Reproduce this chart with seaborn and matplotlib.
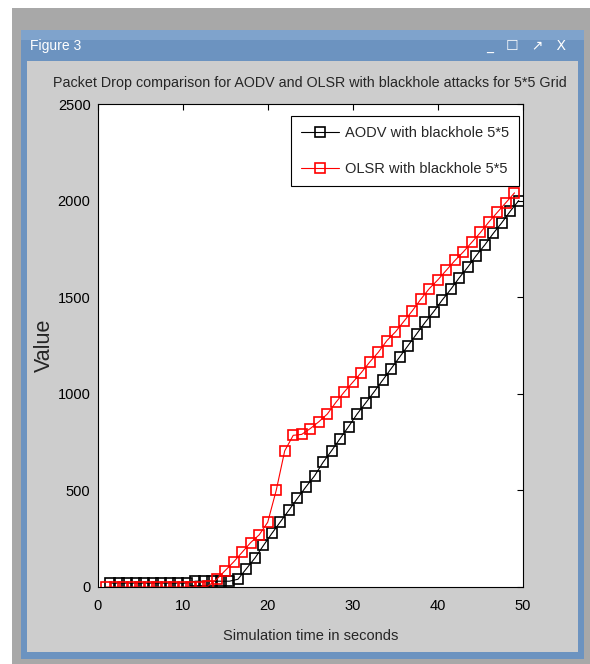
import matplotlib
matplotlib.use("Agg")
import matplotlib.pyplot as plt
import matplotlib.patches as mpatches
import pandas as pd
import seaborn as sns

# values
aodv_time = [1.5, 2.5, 3.5, 4.5, 5.5, 6.5, 7.5, 8.5, 9.5, 10.5,
             11.5, 12.5, 13.5, 14.5, 15.5, 16.5, 17.5, 18.5, 19.5, 20.5,
             21.5, 22.5, 23.5, 24.5, 25.5, 26.5, 27.5, 28.5, 29.5, 30.5,
             31.5, 32.5, 33.5, 34.5, 35.5, 36.5, 37.5, 38.5, 39.5, 40.5,
             41.5, 42.5, 43.5, 44.5, 45.5, 46.5, 47.5, 48.5, 49.5]
aodv_drop = [20, 20, 20, 20, 20, 20, 20, 20, 20, 20,
             30, 30, 30, 30, 30, 40, 95, 150, 215, 278,
             338, 398, 459, 519, 575, 645, 705, 768, 830, 895,
             952, 1010, 1070, 1130, 1190, 1250, 1310, 1370, 1425, 1485,
             1540, 1600, 1655, 1715, 1770, 1830, 1885, 1945, 2000]

olsr_time = [1, 2, 3, 4, 5, 6, 7, 8, 9, 10,
             11, 12, 13, 14, 15, 16, 17, 18, 19, 20,
             21, 22, 23, 24, 25, 26, 27, 28, 29, 30,
             31, 32, 33, 34, 35, 36, 37, 38, 39, 40,
             41, 42, 43, 44, 45, 46, 47, 48, 49]
olsr_drop = [0, 0, 0, 0, 0, 0, 0, 0, 0, 0,
             0, 0, 5, 40, 85, 130, 180, 230, 270, 335,
             500, 705, 785, 790, 820, 855, 895, 955, 1010, 1060,
             1110, 1165, 1215, 1275, 1320, 1375, 1430, 1490, 1545, 1590,
             1640, 1690, 1735, 1785, 1835, 1890, 1940, 1990, 2040]

labels = ["AODV with blackhole 5*5", "OLSR with blackhole 5*5"]
colors = ["black", "red"]

sns.set_style("white")
plt.rcParams['font.family'] = ['Liberation Sans', 'DejaVu Sans']

W, H = 590, 664
fig = plt.figure(figsize=(W / 100, H / 100), dpi=100, facecolor="white")

def box(x0, y0, x1, y1, color):
    # pixel box (top-left origin) -> figure rectangle
    fig.patches.append(mpatches.Rectangle((x0 / W, 1 - y1 / H), (x1 - x0) / W, (y1 - y0) / H,
                                          transform=fig.transFigure, facecolor=color,
                                          edgecolor="none", zorder=-10))

# window frame
box(12, 8, 590, 664, "#a8a8a8")
box(21, 30, 584, 659, "#6c93c0")
box(21, 30, 584, 40, "#7fa3cc")
box(27, 61, 578, 652, "#cdcdcd")
fig.text(30 / W, 1 - 46 / H, "Figure 3", color="white", fontsize=10, va="center")
fig.text(566 / W, 1 - 46 / H, "_   \u2610   \u2197   X", color="white", fontsize=10,
         va="center", ha="right", family=["DejaVu Sans"])

ax = fig.add_axes([97.5 / W, 1 - 587 / H, 425.5 / W, 483 / H])
ax.set_facecolor("white")

df_a = pd.DataFrame({"time": aodv_time, "drop": aodv_drop})
df_o = pd.DataFrame({"time": olsr_time, "drop": olsr_drop})

sns.lineplot(data=df_a, x="time", y="drop", ax=ax, color=colors[0], marker="s",
             markersize=6.5, markerfacecolor="none", markeredgecolor=colors[0],
             markeredgewidth=1.2, linewidth=0.8, label=labels[0])
sns.lineplot(data=df_o, x="time", y="drop", ax=ax, color=colors[1], marker="s",
             markersize=6.5, markerfacecolor="none", markeredgecolor=colors[1],
             markeredgewidth=1.2, linewidth=0.8, label=labels[1])

ax.set_xlim(0, 50)
ax.set_ylim(0, 2500)
ax.set_xticks([0, 10, 20, 30, 40, 50])
ax.set_yticks([0, 500, 1000, 1500, 2000, 2500])
ax.tick_params(direction="in", length=4, width=0.8, top=True, right=True,
               labelsize=10.5, colors="black")
ax.tick_params(axis="x", pad=9)
ax.tick_params(axis="y", pad=5)
for s in ax.spines.values():
    s.set_visible(True)
    s.set_color("black")
    s.set_linewidth(0.8)

ax.set_title("Packet Drop comparison for AODV and OLSR with blackhole attacks for 5*5 Grid",
             fontsize=10.3, pad=12)
ax.set_xlabel("Simulation time in seconds", fontsize=10.5, labelpad=11)
ax.set_ylabel("Value", fontsize=15.5, labelpad=2)

leg = ax.legend(loc="upper right", bbox_to_anchor=(0.9906, 0.975), borderaxespad=0,
                fontsize=10.5, fancybox=False, framealpha=1, edgecolor="black",
                borderpad=0.7, handlelength=2.6, handletextpad=0.4, labelspacing=1.5)
leg.get_frame().set_linewidth(0.8)

fig.savefig("out.png", dpi=100, facecolor=fig.get_facecolor())
